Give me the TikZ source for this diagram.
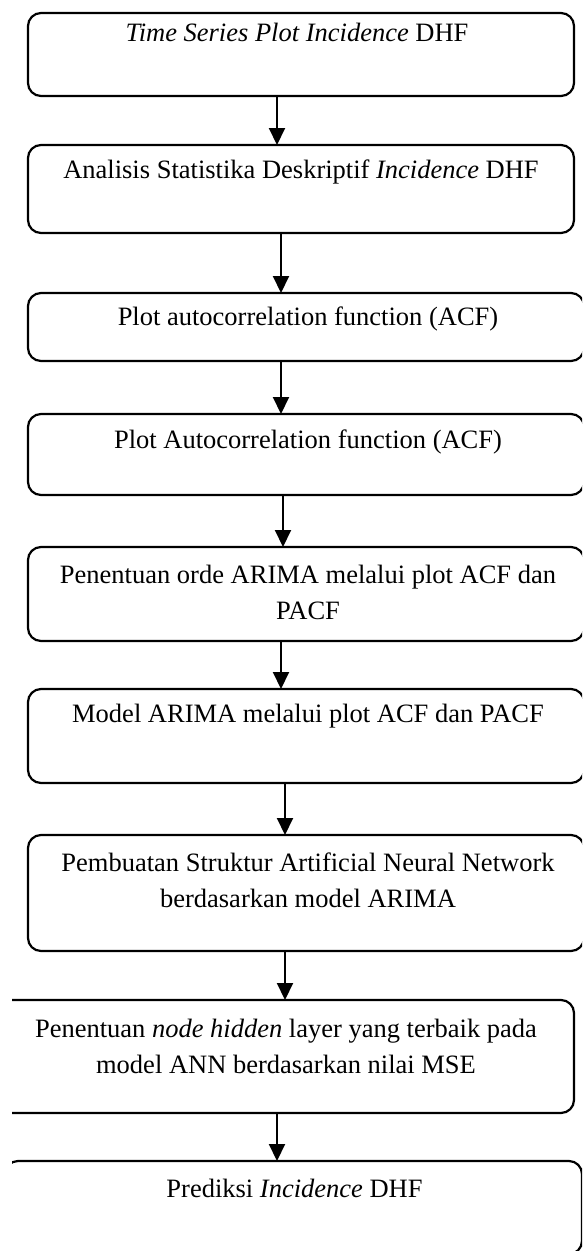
\documentclass[tikz,border=0pt]{standalone}
\usepackage{fontspec}
\setmainfont{Liberation Serif}
\usepackage{tikz}
\usetikzlibrary{positioning, arrows.meta}

\begin{document}
\begin{tikzpicture}[x=1pt, y=-1pt,
        stepbox/.style={draw, line width=2.2pt, rounded corners=13pt, inner sep=0pt, outer sep=0pt, anchor=north west},
        steptext/.style={align=center, inner sep=0pt, font=\fontsize{26.5}{36}\selectfont},
        arr/.style={line width=2pt, -{Triangle[length=17pt, width=16pt]}}]
        \useasboundingbox (0,0) rectangle (582,1251);
        \clip (12,0) rectangle (582,1251);

        \node[stepbox, minimum width=546pt, minimum height=83pt] (tsplot) at (28,13) {};
        \node[stepbox, minimum width=546pt, minimum height=88pt, below=49pt of tsplot.south west, anchor=north west] (deskriptif) {};
        \node[stepbox, minimum width=556pt, minimum height=68pt, below=60pt of deskriptif.south west, anchor=north west] (acf) {};
        \node[stepbox, minimum width=556pt, minimum height=81pt, below=53pt of acf.south west, anchor=north west] (acf2) {};
        \node[stepbox, minimum width=556pt, minimum height=94pt, below=52pt of acf2.south west, anchor=north west] (orde) {};
        \node[stepbox, minimum width=556pt, minimum height=94pt, below=48pt of orde.south west, anchor=north west] (model) {};
        \node[stepbox, minimum width=556pt, minimum height=116pt, below=52pt of model.south west, anchor=north west] (ann) {};
        \node[stepbox, minimum width=594pt, minimum height=113pt, below=49pt of ann.south west, xshift=-48pt, anchor=north west] (hidden) {};
        \node[stepbox, minimum width=577pt, minimum height=93pt, below=48pt of hidden.south west, xshift=25pt, anchor=north west] (prediksi) {};

        \node[steptext, below=10pt of tsplot.north, xshift=-4pt] (tsplot text) {\textit{Time Series Plot Incidence} DHF};
        \node[steptext, below=15pt of deskriptif.north] (deskriptif text) {Analisis Statistika Deskriptif \textit{Incidence} DHF};
        \node[steptext, below=14pt of acf.north, xshift=2pt] (acf text) {Plot autocorrelation function (ACF)};
        \node[steptext, below=16pt of acf2.north, xshift=2pt] (acf2 text) {Plot Autocorrelation function (ACF)};
        \node[steptext, below=18pt of orde.north, xshift=2pt] (orde text) {Penentuan orde ARIMA melalui plot ACF dan\\PACF};
        \node[steptext, below=15pt of model.north, xshift=2pt] (model text) {Model ARIMA melalui plot ACF dan PACF};
        \node[steptext, below=18pt of ann.north, xshift=2pt] (ann text) {Pembuatan Struktur Artificial Neural Network\\berdasarkan model ARIMA};
        \node[steptext, below=19pt of hidden.north, xshift=9pt] (hidden text) {Penentuan \textit{node hidden} layer yang terbaik pada\\model ANN berdasarkan nilai MSE};
        \node[steptext, below=18pt of prediksi.north, xshift=1pt] (prediksi text) {Prediksi \textit{Incidence} DHF};

        % arrow columns
        \coordinate (col1) at (277,0);
        \coordinate (col2) at (281,0);
        \coordinate (col3) at (283,0);
        \coordinate (col4) at (285,0);

        \draw[arr] (tsplot.south -| col1) -- (deskriptif.north -| col1);
        \draw[arr] (deskriptif.south -| col2) -- (acf.north -| col2);
        \draw[arr] (acf.south -| col2) -- (acf2.north -| col2);
        \draw[arr] (acf2.south -| col3) -- (orde.north -| col3);
        \draw[arr] (orde.south -| col2) -- (model.north -| col2);
        \draw[arr] (model.south -| col4) -- (ann.north -| col4);
        \draw[arr] (ann.south -| col4) -- (hidden.north -| col4);
        \draw[arr] (hidden.south -| col1) -- (prediksi.north -| col1);
\end{tikzpicture}
\end{document}
